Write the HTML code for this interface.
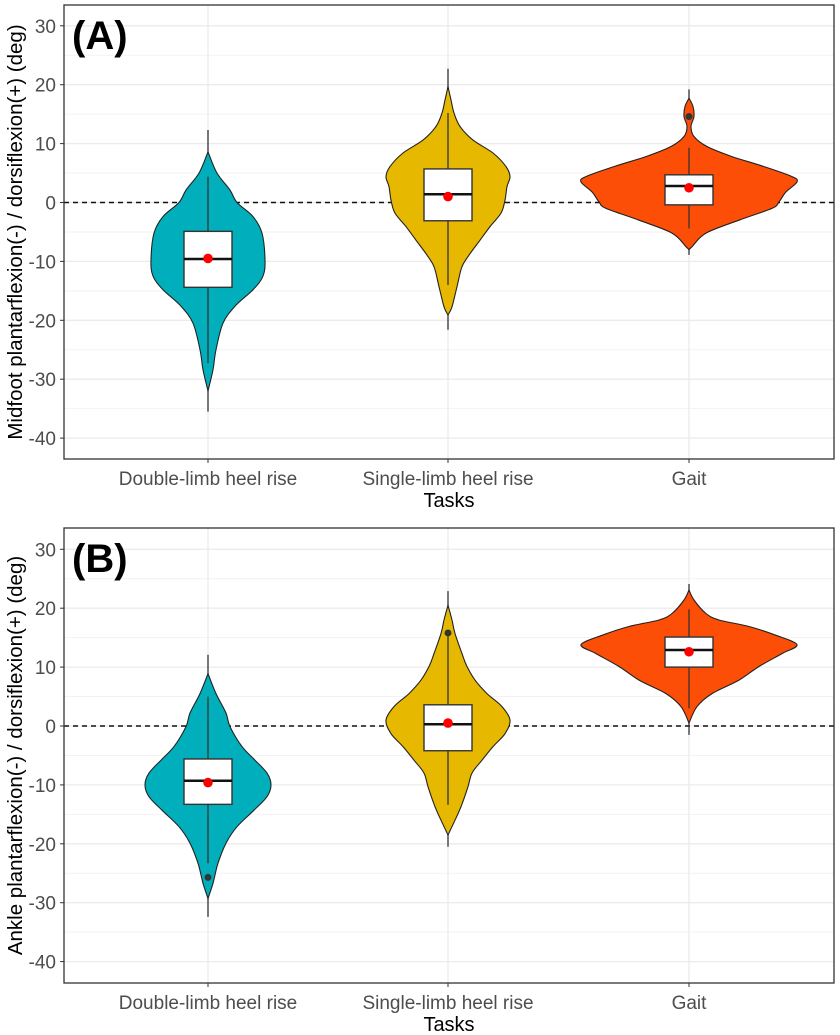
<!DOCTYPE html>
<html><head><meta charset="utf-8"><style>
html,body{margin:0;padding:0;background:#fff;}
svg{display:block;font-family:"Liberation Sans",Arial,sans-serif;}
</style></head>
<body>
<svg id="chart" width="840" height="1035" viewBox="0 0 840 1035" xmlns="http://www.w3.org/2000/svg"></svg>
<script>
// ---- data ----
const categories = ["Double-limb heel rise", "Single-limb heel rise", "Gait"];
const yTicks = [30, 20, 10, 0, -10, -20, -30, -40];
const yTickLabels = ["30", "20", "10", "0", "-10", "-20", "-30", "-40"];
const colors = ["#00AFBB", "#E7B800", "#FC4E07"];

// Panel A (midfoot): violin density profiles [value, relative density]
const midfootDensity1 = [[8.6,0],[5,9],[2.1,22],[0,29],[-2.4,45],[-5.2,54],[-9.7,57],[-12.5,55],[-14.8,45],[-17.6,27],[-20.5,15],[-25,8],[-28.4,5],[-32,0]];
const midfootDensity2 = [[19.7,0],[17.4,3],[15.2,6],[12.9,12],[10.6,25],[8.4,45],[6.1,58],[4.4,62],[2.7,59],[0.4,57],[-1.8,53],[-4.1,42],[-6.4,32],[-8.7,22],[-10.9,14],[-14.3,9],[-17.7,4],[-19.1,0]];
const midfootDensity3 = [[17.7,0],[16.3,4],[14.6,5],[12.9,2],[11.2,5],[9.5,18],[7.8,43],[6.1,75],[4.4,103],[3.5,108],[1.8,97],[0.1,90],[-1.0,83],[-3.0,50],[-5.2,17],[-7.5,3],[-8,0]];
const midfootTails = [[12.3,-35.5],[22.7,-21.6],[19.2,-8.9]];
// box: [whiskerLow, q1, median, q3, whiskerHigh]
const midfootBox = [[-27.3,-14.4,-9.6,-4.9,4.4],[-14.0,-3.1,1.4,5.7,15.2],[-4.4,-0.4,2.8,4.7,9.3]];
const midfootMean = [-9.5, 1.0, 2.5];
const midfootOutliers = [[], [], [14.6]];

// Panel B (ankle)
const ankleDensity1 = [[8.9,0],[5.5,8],[2.2,18],[-0.1,22],[-3.5,34],[-5.8,47],[-8.0,59],[-10.0,63],[-12.0,59],[-14.3,46],[-17.1,29],[-19.9,18],[-23.3,10],[-26.7,5],[-29.3,0]];
const ankleDensity2 = [[20.5,0],[18.0,4],[15.7,7],[12.3,14],[10.1,19],[7.8,27],[5.5,39],[3.3,54],[1.0,62],[-1.3,57],[-3.5,45],[-5.8,34],[-8.0,24],[-10.3,20],[-13.7,13],[-16.0,7],[-18.5,0]];
const ankleDensity3 = [[23.1,0],[21.4,5],[19.1,17],[18.0,30],[16.9,60],[15.4,87],[13.8,108],[12.3,93],[10.1,70],[7.8,50],[5.5,23],[3.3,8],[0.5,0]];
const ankleTails = [[12.1,-32.4],[22.9,-20.5],[24.1,-1.5]];
const ankleBox = [[-23.3,-13.3,-9.3,-5.6,5.0],[-13.4,-4.2,0.3,3.6,15.2],[3.0,10.0,12.9,15.1,19.8]];
const ankleMean = [-9.6, 0.5, 12.6];
const ankleOutliers = [[-25.7], [15.8], []];

// ---- drawing ----
const NS = "http://www.w3.org/2000/svg";
const svg = document.getElementById("chart");
function mk(tag, attrs, parent) {
  const e = document.createElementNS(NS, tag);
  for (const k in attrs) e.setAttribute(k, attrs[k]);
  (parent || svg).appendChild(e);
  return e;
}
const plotLeft = 64, plotRight = 834;
const xPos = [208, 448, 689];
const pxPerUnit = 5.89;
const widthScale = 1.0;
const boxHalf = 24;

function smoothPath(pts) {
  let d = "M" + pts[0][0].toFixed(1) + "," + pts[0][1].toFixed(1);
  for (let i = 0; i < pts.length - 1; i++) {
    const p0 = pts[Math.max(0, i - 1)], p1 = pts[i], p2 = pts[i + 1], p3 = pts[Math.min(pts.length - 1, i + 2)];
    const c1x = p1[0] + (p2[0] - p0[0]) / 6, c1y = p1[1] + (p2[1] - p0[1]) / 6;
    const c2x = p2[0] - (p3[0] - p1[0]) / 6, c2y = p2[1] - (p3[1] - p1[1]) / 6;
    d += " C" + c1x.toFixed(1) + "," + c1y.toFixed(1) + " " + c2x.toFixed(1) + "," + c2y.toFixed(1) + " " + p2[0].toFixed(1) + "," + p2[1].toFixed(1);
  }
  return d;
}

function drawPanel(cfg) {
  const top = cfg.top, bottom = cfg.bottom, y0 = cfg.y0;
  const yS = v => y0 - v * pxPerUnit;
  const g = mk("g", {});
  
  
  for (let i = 0; i < yTicks.length; i++) {
    const v = yTicks[i] + 5;
    const yy = yS(v);
    if (yy > top && yy < bottom) {
      const l = mk("line", {x1: plotLeft, x2: plotRight, y1: yy, y2: yy, stroke: "#f2f2f2", "stroke-width": 1}, g);
      
      
    }
  }
  { const yy = yS(yTicks[yTicks.length-1] - 5); if (yy < bottom) { const l = mk("line", {x1: plotLeft, x2: plotRight, y1: yy, y2: yy, stroke: "#f2f2f2", "stroke-width": 1}, g);
      } }
  for (let i = 0; i < yTicks.length; i++) {
    const yy = yS(yTicks[i]);
    const l = mk("line", {x1: plotLeft, x2: plotRight, y1: yy, y2: yy, stroke: "#ebebeb", "stroke-width": 1.3}, g);
    
    
    const tk = mk("line", {x1: plotLeft - 4, x2: plotLeft, y1: yy, y2: yy, stroke: "#333", "stroke-width": 1}, g);
    
    
    const t = mk("text", {x: plotLeft - 8, y: yy + 7, "text-anchor": "end", "font-size": 19, fill: "#4d4d4d"}, g);
    t.textContent = yTickLabels[i];
    
    
  }
  for (let c = 0; c < categories.length; c++) {
    const l = mk("line", {x1: xPos[c], x2: xPos[c], y1: top, y2: bottom, stroke: "#ebebeb", "stroke-width": 1.3}, g);
    
    
  }
  const z = mk("line", {x1: plotLeft, x2: plotRight, y1: yS(0), y2: yS(0), stroke: "#111", "stroke-width": 1.4, "stroke-dasharray": "5,4"}, g);
  
  
  for (let c = 0; c < categories.length; c++) {
    const cx = xPos[c];
    const tail = cfg.tails[c];
    const tl = mk("line", {x1: cx, x2: cx, y1: yS(tail[0]), y2: yS(tail[1]), stroke: "#333", "stroke-width": 1.3}, g);
    
    
    const dens = cfg.density[c];
    const right = dens.map(p => [cx + p[1] * widthScale, yS(p[0])]);
    const left = dens.slice().reverse().map(p => [cx - p[1] * widthScale, yS(p[0])]);
    const d = smoothPath(right) + " L" + smoothPath(left).slice(1) + " Z";
    const vp = mk("path", {d: d, fill: colors[c], stroke: "#222", "stroke-width": 1.1}, g);
    
    
    const b = cfg.box[c];
    const wl = mk("line", {x1: cx, x2: cx, y1: yS(b[0]), y2: yS(b[4]), stroke: "#333", "stroke-width": 1.3}, g);
    
    
    const r = mk("rect", {x: cx - boxHalf, y: yS(b[3]), width: boxHalf * 2, height: yS(b[1]) - yS(b[3]), fill: "#fff", stroke: "#333", "stroke-width": 1.4}, g);
    
    
    const m = mk("line", {x1: cx - boxHalf, x2: cx + boxHalf, y1: yS(b[2]), y2: yS(b[2]), stroke: "#111", "stroke-width": 2.5}, g);
    
    
    const outs = cfg.outliers[c];
    for (let k = 0; k < outs.length; k++) {
      const o = mk("circle", {cx: cx, cy: yS(outs[k]), r: 3.5, fill: "#333"}, g);
      
      
    }
    const mp = mk("circle", {cx: cx, cy: yS(cfg.mean[c]), r: 4.8, fill: "#ff0000"}, g);
    
    
    const xt = mk("line", {x1: cx, x2: cx, y1: bottom, y2: bottom + 4, stroke: "#333", "stroke-width": 1}, g);
    
    
    const xl = mk("text", {x: cx, y: bottom + 26, "text-anchor": "middle", "font-size": 19, fill: "#4d4d4d"}, g);
    xl.textContent = categories[c];
    
    
  }
  const bd = mk("rect", {x: plotLeft, y: top, width: plotRight - plotLeft, height: bottom - top, fill: "none", stroke: "#333", "stroke-width": 1.3}, g);
  
  
  const xtl = mk("text", {x: 449, y: bottom + 48, "text-anchor": "middle", "font-size": 20, fill: "#000"}, g);
  xtl.textContent = "Tasks";
  
  
  const ymid = (top + bottom) / 2;
  const ytl = mk("text", {x: 0, y: 0, transform: "translate(22," + ymid + ") rotate(-90)", "text-anchor": "middle", "font-size": 20.5, fill: "#000"}, g);
  ytl.textContent = cfg.yTitle;
  
  
  const pl = mk("text", {x: 72, y: top + 44, "font-size": 40, "font-weight": "bold", fill: "#000"}, g);
  pl.textContent = cfg.label;
  
  
}

drawPanel({name: "panel-a-midfoot", top: 5, bottom: 459, y0: 202.5, density: [midfootDensity1, midfootDensity2, midfootDensity3],
  tails: midfootTails, box: midfootBox, mean: midfootMean, outliers: midfootOutliers,
  yTitle: "Midfoot plantarflexion(-) / dorsiflexion(+) (deg)", label: "(A)"});
drawPanel({name: "panel-b-ankle", top: 528, bottom: 983, y0: 726, density: [ankleDensity1, ankleDensity2, ankleDensity3],
  tails: ankleTails, box: ankleBox, mean: ankleMean, outliers: ankleOutliers,
  yTitle: "Ankle plantarflexion(-) / dorsiflexion(+) (deg)", label: "(B)"});
</script>
</body></html>
